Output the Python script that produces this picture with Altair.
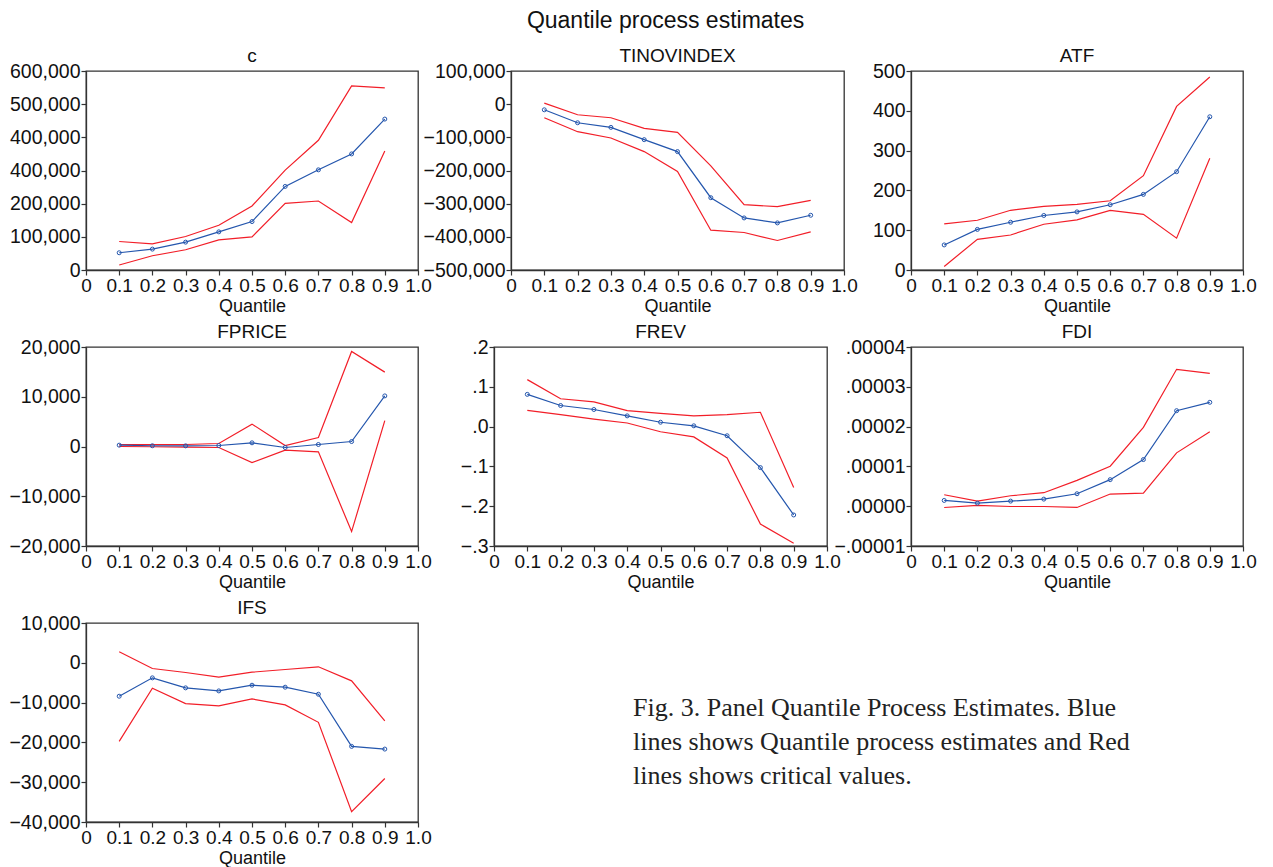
import altair as alt
import pandas as pd

quantiles = [0.1, 0.2, 0.3, 0.4, 0.5, 0.6, 0.7, 0.8, 0.9]
x_ticks = [0, 0.1, 0.2, 0.3, 0.4, 0.5, 0.6, 0.7, 0.8, 0.9, 1.0]

c_est = [52000, 63000, 84000, 115000, 146000, 252000, 302000, 350000, 455000]
c_upper = [86000, 79000, 101000, 135000, 193000, 301000, 391000, 555000, 549000]
c_lower = [15000, 43000, 61000, 91000, 100000, 201000, 208000, 143000, 359000]

tino_est = [-17000, -56000, -70000, -107000, -143000, -282000, -343000, -358000, -335000]
tino_upper = [3000, -32000, -41000, -73000, -85000, -186000, -303000, -309000, -290000]
tino_lower = [-41000, -83000, -102000, -143000, -203000, -380000, -387000, -411000, -385000]

atf_est = [63, 102, 120, 137, 146, 164, 190, 247, 385]
atf_upper = [116, 125, 150, 160, 165, 174, 237, 411, 485]
atf_lower = [9, 77, 88, 115, 126, 150, 140, 80, 281]

fprice_est = [270, 150, 130, 200, 740, -200, 400, 1000, 10170]
fprice_upper = [400, 400, 400, 600, 4500, 200, 1800, 19100, 14950]
fprice_lower = [0, -50, -130, -200, -3230, -740, -1080, -17100, 5190]

frev_est = [0.081, 0.053, 0.043, 0.027, 0.011, 0.002, -0.023, -0.103, -0.222]
frev_upper = [0.118, 0.070, 0.062, 0.040, 0.033, 0.027, 0.030, 0.036, -0.153]
frev_lower = [0.041, 0.030, 0.019, 0.009, -0.013, -0.026, -0.079, -0.245, -0.293]

fdi_est = [1.45e-6, 0.77e-6, 1.28e-6, 1.78e-6, 3.13e-6, 6.67e-6, 11.72e-6, 24.0e-6, 26.1e-6]
fdi_upper = [2.88e-6, 1.28e-6, 2.63e-6, 3.39e-6, 6.5e-6, 10.04e-6, 19.8e-6, 34.4e-6, 33.35e-6]
fdi_lower = [-0.32e-6, 0.19e-6, -0.07e-6, -0.07e-6, -0.32e-6, 3.05e-6, 3.3e-6, 13.4e-6, 18.7e-6]

ifs_est = [-8400, -3780, -6300, -7060, -5630, -6130, -7900, -21000, -21680]
ifs_upper = [2770, -1430, -2440, -3610, -2350, -1680, -1010, -4540, -14620]
ifs_lower = [-19750, -6390, -10250, -10840, -9080, -10590, -14960, -37400, -29080]

c_ticks = [0, 100000, 200000, 300000, 400000, 500000, 600000]
tino_ticks = [-500000, -400000, -300000, -200000, -100000, 0, 100000]
atf_ticks = [0, 100, 200, 300, 400, 500]
fprice_ticks = [-20000, -10000, 0, 10000, 20000]
frev_ticks = [-0.3, -0.2, -0.1, 0.0, 0.1, 0.2]
fdi_ticks = [-0.00001, 0.0, 0.00001, 0.00002, 0.00003, 0.00004]
ifs_ticks = [-40000, -30000, -20000, -10000, 0, 10000]

caption_lines = [
    "Fig. 3. Panel Quantile Process Estimates. Blue",
    "lines shows Quantile process estimates and Red",
    "lines shows critical values.",
]

RED = "#f21e28"
BLUE = "#2456ad"
FRAME = "#333333"
PH = 199


def panel(name, est, upper, lower, yticks, label_expr, w=332):
    df = pd.DataFrame({
        "q": quantiles * 3,
        "v": est + upper + lower,
        "s": ["est"] * 9 + ["upper"] * 9 + ["lower"] * 9,
    })
    x = alt.X("q:Q", scale=alt.Scale(domain=[0, 1], nice=False, zero=False),
              axis=alt.Axis(values=x_ticks, title="Quantile", labelFlush=False,
                            labelOverlap=False, labelFontSize=19,
                            labelExpr="datum.value == 0 ? '0' : format(datum.value, '.1f')"))
    y = alt.Y("v:Q", scale=alt.Scale(domain=[yticks[0], yticks[-1]], nice=False, zero=False),
              axis=alt.Axis(values=yticks, title=None, labelFlush=False, labelOverlap=False,
                            labelFontSize=19.5, labelExpr=label_expr))
    base = alt.Chart(df)
    red = base.transform_filter("datum.s != 'est'").mark_line(
        color=RED, strokeWidth=1.2).encode(x=x, y=y, detail="s:N")
    blue = base.transform_filter("datum.s == 'est'").mark_line(
        color=BLUE, strokeWidth=1.2).encode(x=x, y=y)
    pts = base.transform_filter("datum.s == 'est'").mark_point(
        filled=False, color=BLUE, size=16, strokeWidth=1, opacity=1).encode(x=x, y=y)
    return alt.layer(red, blue, pts).properties(
        width=w, height=PH, title=alt.TitleParams(name, offset=-5),
        view=alt.ViewBackground(stroke=FRAME, strokeWidth=1.3))


def spacer(w):
    return alt.Chart(pd.DataFrame({"k": [0]})).mark_point(opacity=0).encode(
        x=alt.value(0), y=alt.value(0)).properties(
        width=w, height=PH, view=alt.ViewBackground(stroke=None))


comma = "format(datum.value, ',')"
p_c = panel("c", c_est, c_upper, c_lower, c_ticks,
            "datum.value == 300000 ? '400,000' : format(datum.value, ',')")
p_tino = panel("TINOVINDEX", tino_est, tino_upper, tino_lower, tino_ticks, comma, w=333)
p_atf = panel("ATF", atf_est, atf_upper, atf_lower, atf_ticks, "format(datum.value, 'd')")
p_fprice = panel("FPRICE", fprice_est, fprice_upper, fprice_lower, fprice_ticks, comma)
p_frev = panel("FREV", frev_est, frev_upper, frev_lower, frev_ticks,
               "replace(format(datum.value, '.1f'), '0.', '.')", w=333)
p_fdi = panel("FDI", fdi_est, fdi_upper, fdi_lower, fdi_ticks,
              "replace(format(datum.value, '.5f'), '0.', '.')")
p_ifs = panel("IFS", ifs_est, ifs_upper, ifs_lower, ifs_ticks, comma)

caption = alt.Chart(pd.DataFrame({"k": [0]})).mark_text(
    text=caption_lines, align="left", baseline="alphabetic", font="Liberation Serif",
    fontSize=26, lineHeight=34, color="#222222").encode(
    x=alt.value(215), y=alt.value(93)).properties(
    width=825, height=PH, view=alt.ViewBackground(stroke=None))

row1 = alt.hconcat(p_c, spacer(93), p_tino, spacer(67), p_atf, spacing=0, bounds="flush")
row2 = alt.hconcat(p_fprice, spacer(76), p_frev, spacer(84), p_fdi, spacing=0, bounds="flush")
row3 = alt.hconcat(p_ifs, caption, spacing=0, bounds="flush")

chart = alt.vconcat(
    row1, row2, row3,
    spacing=6,
    title=alt.TitleParams("Quantile process estimates", fontSize=23, fontWeight="normal",
                          font="Liberation Sans", color="#111111", offset=13,
                          anchor="middle", dx=33),
    padding={"left": 0, "top": 2, "right": 0, "bottom": 0},
).configure_view(stroke=None).configure_axis(
    labelFont="Liberation Sans", labelFontSize=19, labelColor="#111111",
    tickColor=FRAME, domainColor=FRAME, tickSize=5, labelPadding=1, grid=False,
    titleFont="Liberation Sans", titleFontSize=18, titleFontWeight="normal",
    titleColor="#111111", titlePadding=2, domainWidth=1.3, tickWidth=1.2,
).configure_title(
    font="Liberation Sans", fontSize=19, fontWeight="normal", color="#111111",
)

chart.save("out.html", embed_options={"renderer": "svg", "actions": False})
